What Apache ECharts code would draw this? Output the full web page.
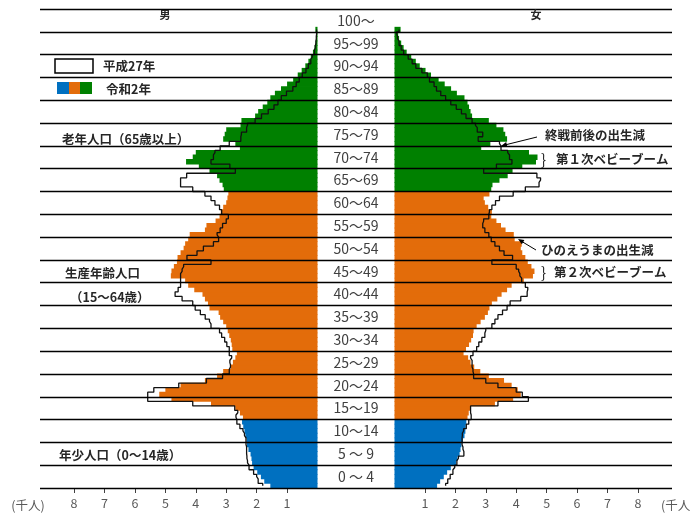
<!DOCTYPE html>
<html><head><meta charset="utf-8">
<script src="https://cdn.jsdelivr.net/npm/echarts@6/dist/echarts.min.js"></script>
<style>html,body{margin:0;padding:0;background:#fff}#c{width:690px;height:516px}</style>
</head><body><div id="c"></div>
<script>
// single-year age categories 0..104 (100 = "100+", 101-104 empty space above)
const ageCats = Array.from({length:105}, (_, i) => String(i));
const groupLabels = ["0 ～ 4","5 ～ 9","10～14","15～19","20～24","25～29","30～34","35～39","40～44","45～49",
  "50～54","55～59","60～64","65～69","70～74","75～79","80～84","85～89","90～94","95～99","100～"];
const xTicks = [1,2,3,4,5,6,7,8];

// 男 令和2年 (thousand persons), ages 0..100+
const male2020 = [1.55,1.75,1.86,1.98,2.1, 2.15,2.17,2.2,2.27,2.32, 2.33,2.37,2.4,2.44,2.48,
  2.45,2.55,2.7,3.5,4.8, 5.2,5.0,4.5,3.7,3.3, 3.1,2.85,2.78,2.7,2.65, 2.8,2.82,2.85,2.9,2.95,
  3.0,3.1,3.2,3.25,3.55, 3.6,3.7,3.78,4.05,4.25, 4.35,4.82,4.8,4.72,4.62, 4.6,4.5,4.4,4.35,4.25,
  4.2,3.7,3.65,3.35,3.22, 3.18,3.1,3.0,2.96,2.93, 3.08,3.12,3.22,3.3,3.55, 3.9,4.32,4.1,4.0,2.55,
  2.7,3.1,3.05,3.0,2.53, 2.5,2.05,1.95,1.8,1.65, 1.55,1.4,1.2,1.0,0.8, 0.65,0.52,0.4,0.3,0.22,
  0.15,0.1,0.07,0.05,0.03, 0.07];
// 男 平成27年
const male2015 = [1.8,1.95,2.0,2.1,2.25, 2.3,2.32,2.33,2.33,2.35, 2.35,2.4,2.45,2.55,2.65,
  2.68,2.62,2.72,4.1,5.58, 5.58,5.38,4.56,3.65,3.12, 2.9,2.86,2.88,2.82,2.9, 2.9,2.98,3.05,3.15,3.22,
  3.5,3.55,3.69,3.85,4.02, 4.1,4.45,4.68,4.58,4.5, 4.5,4.5,4.45,4.4,3.5, 4.29,3.96,3.75,3.42,3.25,
  3.3,3.2,3.12,3.0,2.93, 3.15,3.22,3.37,3.5,3.7, 4.1,4.5,4.5,4.3,2.7, 2.88,3.5,3.42,3.37,3.2,
  2.9,2.52,2.5,2.33,2.3, 2.05,1.84,1.62,1.43,1.3, 1.19,1.02,0.81,0.7,0.6, 0.5,0.38,0.3,0.22,0.17,
  0.1,0.07,0.05,0.04,0.03, 0.03];
// 女 令和2年
const female2020 = [1.4,1.5,1.62,1.73,1.85, 2.02,2.07,2.14,2.17,2.2, 2.25,2.3,2.33,2.34,2.36,
  2.4,2.44,2.5,3.3,3.9, 4.15,4.05,3.85,3.6,3.1, 2.82,2.62,2.5,2.42,2.27, 2.35,2.45,2.52,2.58,2.6,
  2.7,2.83,2.97,3.07,3.12, 3.2,3.38,3.52,3.7,3.85, 4.25,4.55,4.6,4.5,4.38, 4.3,4.2,4.15,4.18,3.95,
  3.92,3.65,3.5,3.35,3.18, 3.2,3.08,2.97,2.93,3.12, 3.18,3.22,3.45,3.72,3.88, 4.2,4.65,4.7,4.42,2.85,
  3.15,3.7,3.64,3.58,3.35, 3.1,2.55,2.5,2.45,2.4, 2.3,2.05,1.86,1.65,1.45, 1.2,1.02,0.83,0.7,0.55,
  0.4,0.3,0.22,0.15,0.12, 0.2];
// 女 平成27年
const female2015 = [1.68,1.75,1.83,1.92,1.98, 2.05,2.1,2.28,2.25,2.22, 2.22,2.23,2.27,2.36,2.44,
  2.52,2.5,2.5,3.4,4.4, 4.2,4.0,3.4,3.0,2.6, 2.58,2.55,2.55,2.5,2.58, 2.7,2.77,2.87,2.97,3.0,
  3.2,3.3,3.4,3.55,3.7, 3.8,4.15,4.36,4.38,4.3, 4.18,4.12,4.08,4.0,3.2, 3.88,3.6,3.45,3.3,3.18,
  3.1,2.97,2.9,2.93,3.1, 3.12,3.2,3.32,3.45,3.9, 4.3,4.75,4.8,4.68,2.93, 3.35,3.86,3.78,3.72,3.5,
  3.45,2.75,2.9,2.72,2.66, 2.55,2.35,2.2,2.03,1.85, 1.68,1.52,1.38,1.3,1.15, 1.08,0.9,0.7,0.58,0.45,
  0.3,0.22,0.15,0.1,0.07, 0.15];

const BLUE = '#0070C0', ORANGE = '#E36C0A', GREEN = '#008000';
const FONT = "'Noto Sans CJK JP', sans-serif";
function barColor(p){ return p.dataIndex < 15 ? BLUE : (p.dataIndex < 65 ? ORANGE : GREEN); }

const GT = 9, GH = 479, XMAX = 9.12;
const chart = echarts.init(document.getElementById('c'), null, {renderer:'canvas'});

function valAxis(gi, inverse){
  return {type:'value', gridIndex:gi, inverse:inverse, min:0, max:XMAX, interval:1,
    axisLine:{show:false}, splitLine:{show:false},
    axisTick:{show:true, customValues:xTicks, length:5, lineStyle:{color:'#404040', width:1}},
    axisLabel:{show:true, customValues:xTicks, color:'#595959', fontSize:12.5, margin:9, fontFamily:FONT}};
}
function hiddenCat(gi){
  return {type:'category', gridIndex:gi, data:ageCats, boundaryGap:true,
    axisLine:{show:false}, axisTick:{show:false}, axisLabel:{show:false}, splitLine:{show:false}};
}
const txt = (x,y,t,opt) => Object.assign({type:'text', x:x, y:y, z:20,
  style:Object.assign({text:t, fill:'#262626', font:'bold 12.5px '+FONT, textAlign:'left', textVerticalAlign:'middle'}, opt||{})});

chart.setOption({
  animation:false,
  backgroundColor:'#fff',
  grid:[
    {left:40, top:GT, width:277.5, height:GH},
    {left:394.5, top:GT, width:277.5, height:GH},
    {left:317.5, top:GT, width:77, height:GH},
    {left:40, top:GT, width:632, height:GH}
  ],
  xAxis:[ valAxis(0,true), valAxis(1,false),
    {type:'value', gridIndex:2, show:false}, {type:'value', gridIndex:3, show:false} ],
  yAxis:[ hiddenCat(0), hiddenCat(1),
    {type:'category', gridIndex:2, data:groupLabels, boundaryGap:true, axisLine:{show:false}, axisTick:{show:false},
      axisLabel:{inside:true, interval:0, margin:38.5, align:'center', color:'#404040', fontSize:14, fontFamily:FONT}},
    {type:'value', gridIndex:3, min:0, max:105, interval:5, z:10,
      axisLine:{show:false}, axisTick:{show:false}, axisLabel:{show:false},
      splitLine:{show:true, lineStyle:{color:'#000', width:1.3}}}
  ],
  series:[
    {type:'bar', name:'男 令和2年', xAxisIndex:0, yAxisIndex:0, data:male2020, barWidth:5.4,
      itemStyle:{color:barColor}},
    {type:'line', name:'男 平成27年', xAxisIndex:0, yAxisIndex:0, data:male2015.map((v,i)=>[v,i]),
      step:'middle', symbol:'none', z:4, lineStyle:{color:'#111', width:1.3}},
    {type:'bar', name:'女 令和2年', xAxisIndex:1, yAxisIndex:1, data:female2020, barWidth:5.4,
      itemStyle:{color:barColor}},
    {type:'line', name:'女 平成27年', xAxisIndex:1, yAxisIndex:1, data:female2015.map((v,i)=>[v,i]),
      step:'middle', symbol:'none', z:4, lineStyle:{color:'#111', width:1.3}}
  ],
  graphic:[
    txt(165,15,'男',{textAlign:'center', font:'bold 11px '+FONT}),
    txt(536,15,'女',{textAlign:'center', font:'bold 11px '+FONT}),
    {type:'rect', shape:{x:55,y:59,width:38,height:14}, style:{fill:'#fff', stroke:'#000', lineWidth:1.5}, z:20},
    txt(103,66,'平成27年'),
    {type:'rect', shape:{x:57,y:82,width:12,height:12}, style:{fill:BLUE}, z:20},
    {type:'rect', shape:{x:69,y:82,width:11,height:12}, style:{fill:ORANGE}, z:20},
    {type:'rect', shape:{x:80,y:82,width:12,height:12}, style:{fill:GREEN}, z:20},
    txt(106,89,'令和2年'),
    txt(62,139,'老年人口（65歳以上）'),
    txt(65,273,'生産年齢人口'),
    txt(70,297,'（15～64歳）'),
    txt(59,455,'年少人口（0～14歳）'),
    txt(545,135,'終戦前後の出生減'),
    {type:'line', shape:{x1:537,y1:137,x2:504,y2:145.2}, style:{stroke:'#000', lineWidth:1}, z:20},
    {type:'polygon', shape:{points:[[501,146],[506.2,142.1],[507.4,146.9]]}, style:{fill:'#000'}, z:20},
    txt(541,159,'}',{font:'15px '+FONT}),
    txt(556,159,'第１次ベビーブーム'),
    txt(541,250,'ひのえうまの出生減'),
    {type:'line', shape:{x1:536,y1:250,x2:521,y2:241}, style:{stroke:'#000', lineWidth:1}, z:20},
    {type:'polygon', shape:{points:[[518,239],[524.4,240.0],[521.8,244.2]]}, style:{fill:'#000'}, z:20},
    txt(541,272,'}',{font:'15px '+FONT}),
    txt(554,272,'第２次ベビーブーム'),
    txt(28,505,'(千人)',{textAlign:'center', font:'12.5px '+FONT, fill:'#595959'}),
    txt(661,505,'(千人)',{font:'12.5px '+FONT, fill:'#595959'})
  ]
});
</script></body></html>
